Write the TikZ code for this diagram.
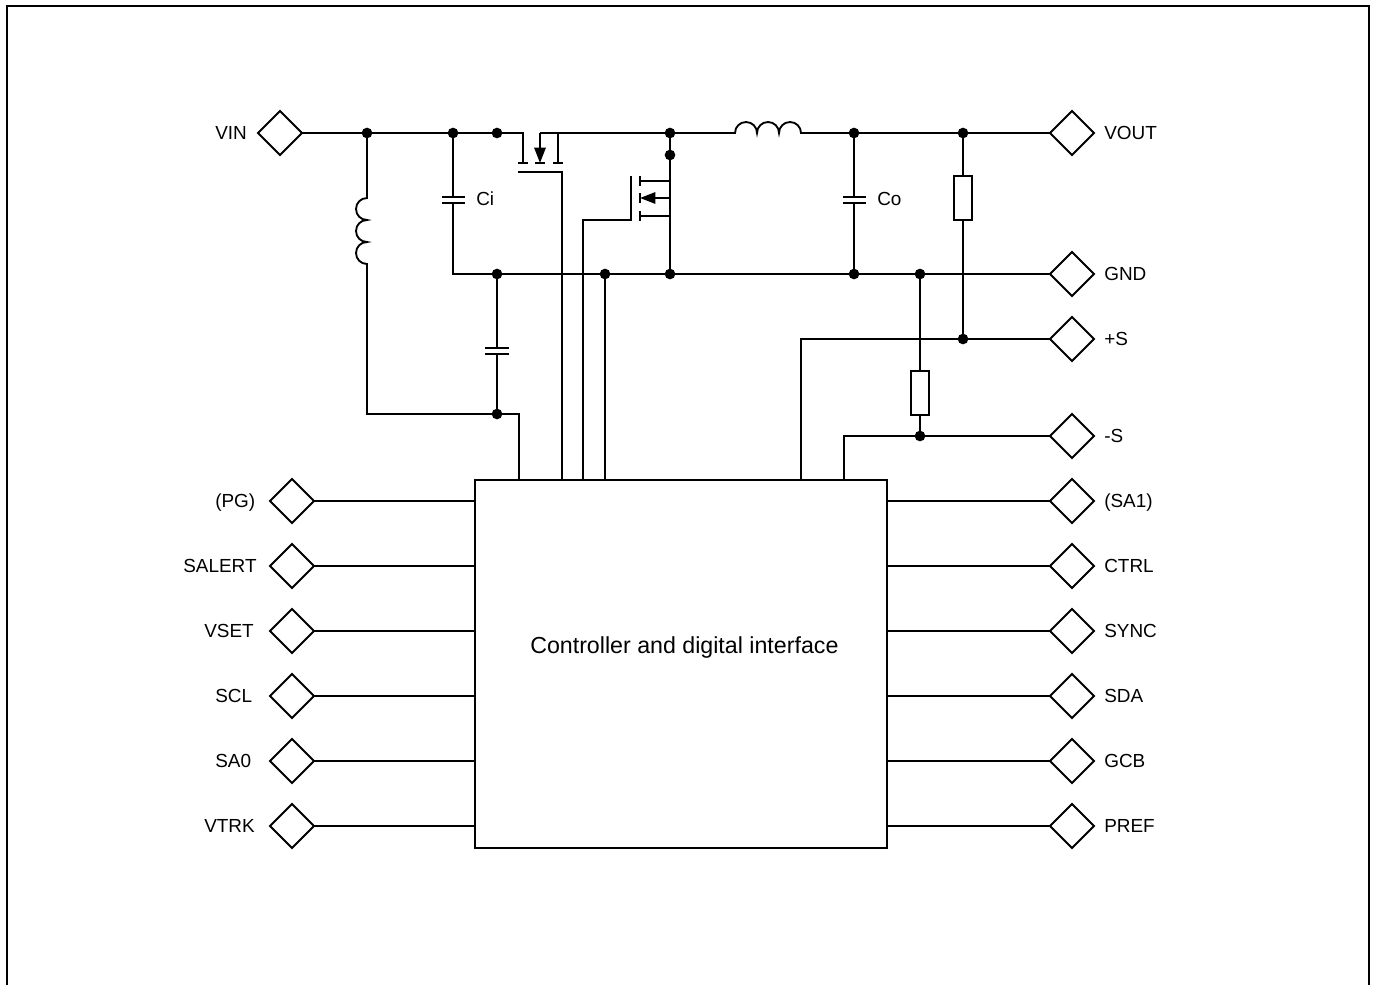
\documentclass[tikz,border=0pt]{standalone}
\usepackage{fontspec}
\setmainfont{Liberation Sans}
\usetikzlibrary{shapes.geometric,arrows.meta,calc}
\tikzset{
  wire/.style={line width=1.4pt},
  pin/.style={draw,line width=1.4pt,diamond,aspect=1,inner sep=0pt,outer sep=0pt,minimum width=33pt,minimum height=33pt},
  lbl/.style={anchor=west,inner sep=0pt,text height=10.2pt,text depth=0pt,font=\fontsize{14.2}{17}\selectfont},
  boxlbl/.style={anchor=west,inner sep=0pt,text height=12.5pt,text depth=0pt,font=\fontsize{17.4}{20}\selectfont},
  dot/.style={circle,fill=black,inner sep=0pt,outer sep=0pt,minimum size=8pt},
  res/.style={draw,line width=1.4pt,fill=white,inner sep=0pt,outer sep=0pt,minimum width=13.5pt,minimum height=33pt},
  chip/.style={draw,line width=1.4pt,rectangle,inner sep=0pt,outer sep=0pt,minimum width=309pt,minimum height=276pt},
  tiparrow/.style={-{Triangle[length=11.5pt,width=8.5pt]}},
}
\begin{document}
\begin{tikzpicture}[x=0.75pt,y=-0.75pt]
\useasboundingbox (0,0) rectangle (1376,985);
\draw[line width=1.6pt,line cap=butt] (7,985) -- (7,6) -- (1369,6) -- (1369,985);

\node[chip] (box) at (681,664) {};
\node[boxlbl] (boxt) at (530,645) {Controller and digital interface};

% pins on the right
\foreach \n/\y/\t in {a/501/(SA1),b/566/CTRL,c/631/SYNC,d/696/SDA,e/761/GCB,f/826/PREF}{
  \node[pin] (r\n) at (1072,\y) {};
  \node[lbl] (rl\n) at (1104,\y) {\t};
  \draw[wire] (r\n.west) -- (box.east |- r\n.west);
}
% pins on the left
\foreach \n/\y/\lx/\t in {a/501/215/(PG),b/566/183/SALERT,c/631/204/VSET,d/696/215/SCL,e/761/215/SA0,f/826/204/VTRK}{
  \node[pin] (l\n) at (292,\y) {};
  \node[lbl] (ll\n) at (\lx,\y) {\t};
  \draw[wire] (l\n.east) -- (box.west |- l\n.east);
}
% power pins
\node[pin] (vin) at (280,133) {};
\node[lbl] (vinl) at (215,133) {VIN};
\node[pin] (vout) at (1072,133) {};
\node[lbl] (voutl) at (1104,133) {VOUT};
\node[pin] (gnd) at (1072,274) {};
\node[lbl] (gndl) at (1104,274) {GND};
\node[pin] (sp) at (1072,339) {};
\node[lbl] (spl) at (1104,339) {+S};
\node[pin] (sm) at (1072,436) {};
\node[lbl] (sml) at (1104,436) {-S};
\node[lbl] (cil) at (476,199) {Ci};
\node[lbl] (col) at (877,199) {Co};

% junctions
\foreach \n/\x/\y in {j1/367/133,j2/453/133,j3/497/133,j4/670/133,j5/670/155,j6/854/133,j7/963/133,
  g1/497/274,g2/605/274,g3/670/274,g4/854/274,g5/920/274,
  k1/497/414,k2/963/339,k3/920/436}{
  \node[dot] (\n) at (\x,\y) {};
}

% top rail
\draw[wire] (vin.east) -- (j3.center) -- (523,133) -- (523,163);
\draw[wire] (518,163) -- (528,163);
\draw[wire] (535,163) -- (545,163);
\draw[wire] (553,163) -- (563,163);
\draw[wire] (558,163) -- (558,133);
\draw[wire,tiparrow] (540,133) -- (540,163);
\draw[wire] (540,133) -- (j4.center) -- (735,133)
  arc[start angle=180,end angle=0,radius=8.25pt]
  arc[start angle=180,end angle=0,radius=8.25pt]
  arc[start angle=180,end angle=0,radius=8.25pt]
  -- (j6.center) -- (vout.west);

% Q1 gate
\draw[wire] (518,172) -- (562,172) -- (562,480);

% Q2
\draw[wire] (j4.center) -- (g3.center);
\draw[wire] (631,176) -- (631,220) -- (583,220) -- (583,480);
\draw[wire] (640,176) -- (640,186);
\draw[wire] (640,193) -- (640,203);
\draw[wire] (640,211) -- (640,221);
\draw[wire] (640,181) -- (670,181);
\draw[wire] (640,216) -- (670,216);
\draw[wire,tiparrow] (670,198) -- (640,198);

% ground rail
\draw[wire] (j2.center) -- (453,197);
\draw[wire] (442,197) -- (465,197);
\draw[wire] (442,203) -- (465,203);
\draw[wire] (453,203) -- (453,274) -- (g1.center) -- (g2.center) -- (g3.center) -- (g4.center) -- (g5.center) -- (gnd.west);
\draw[wire] (g2.center) -- (605,480);

% input inductor
\draw[wire] (j1.center) -- (367,198)
  arc[start angle=90,end angle=270,radius=8.25pt]
  arc[start angle=90,end angle=270,radius=8.25pt]
  arc[start angle=90,end angle=270,radius=8.25pt]
  -- (k1 -| j1) -- (k1.center);

% bottom capacitor
\draw[wire] (g1.center) -- (497,348);
\draw[wire] (485,348) -- (509,348);
\draw[wire] (485,354) -- (509,354);
\draw[wire] (497,354) -- (k1.center) -- (519,414) -- (519,480);

% output capacitor
\draw[wire] (j6.center) -- (854,197);
\draw[wire] (843,197) -- (866,197);
\draw[wire] (843,203) -- (866,203);
\draw[wire] (854,203) -- (g4.center);

% feedback resistors and sense lines
\draw[wire] (j7.center) -- (k2.center);
\node[res] (r1) at (963,198) {};
\draw[wire] (g5.center) -- (k3.center);
\node[res] (r2) at (920,393) {};
\draw[wire] (sp.west) -- (801,339) -- (801,480);
\draw[wire] (sm.west) -- (844,436) -- (844,480);
\end{tikzpicture}
\end{document}
